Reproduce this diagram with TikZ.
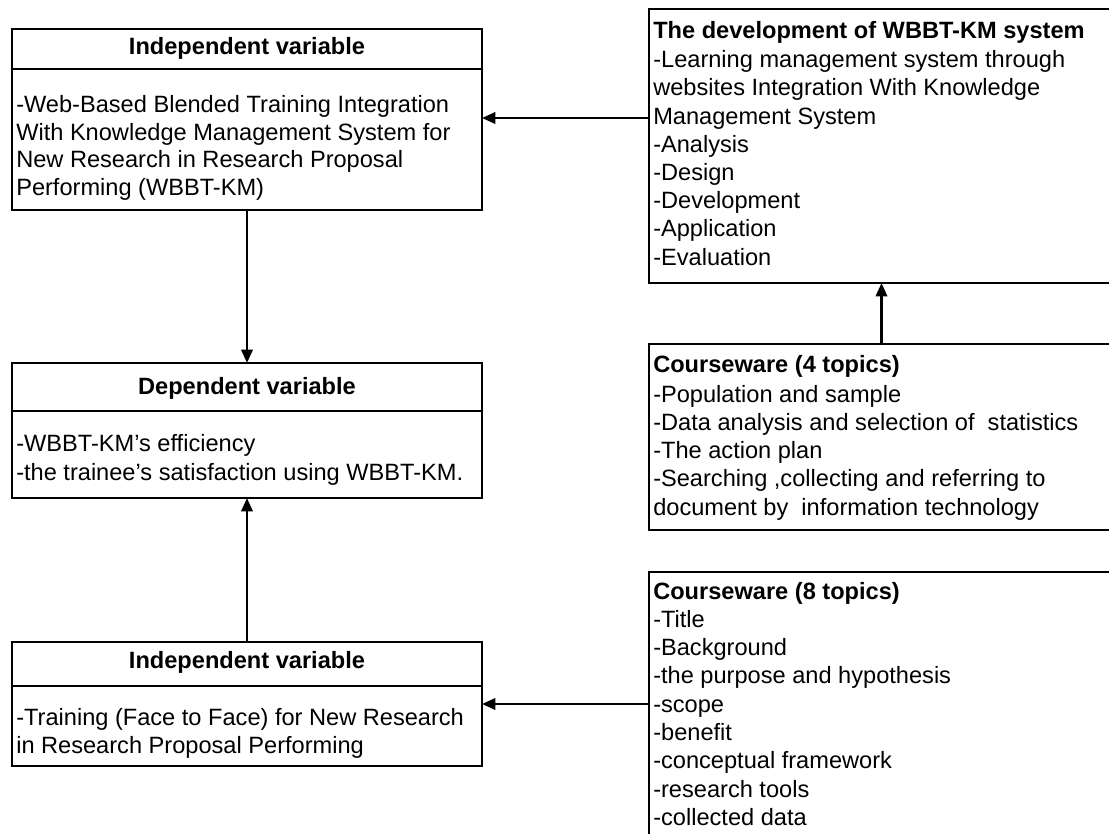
\documentclass[tikz,border=0pt]{standalone}
\usepackage{fontspec}
\setmainfont{Liberation Sans}
\usetikzlibrary{arrows.meta}
\begin{document}
\begin{tikzpicture}[x=0.75pt,y=-0.75pt,
  box/.style={draw, line width=2pt, anchor=north west, inner sep=0pt, outer sep=0pt},
  rule/.style={line width=2pt},
  txt/.style={anchor=base west, inner sep=0pt, font=\fontsize{17.7}{21}\selectfont},
  headtxt/.style={anchor=base, inner sep=0pt, font=\fontsize{17.7}{21}\selectfont\bfseries},
  titletxt/.style={anchor=base west, inner sep=0pt, font=\fontsize{17.7}{21}\selectfont\bfseries},
  link/.style={line width=1.8pt, -{Triangle[length=10pt,width=8.5pt]}}]
\useasboundingbox (0,0) rectangle (1109,834);
\clip (0,0) rectangle (1109,834);

% left column: variables
\node[box, minimum width=352.5pt, minimum height=135.75pt] (ivA) at (12,29) {};
\draw[rule] (12,69) -- (482,69);
\node[headtxt] (ivAh) at (247,55) {Independent variable};
\node[txt] (ivA1) at (16,113) {-Web-Based Blended Training Integration};
\node[txt] (ivA2) at (16,141) {With Knowledge Management System for};
\node[txt] (ivA3) at (16,168) {New Research in Research Proposal};
\node[txt] (ivA4) at (16,196) {Performing (WBBT-KM)};

\node[box, minimum width=352.5pt, minimum height=101.25pt] (dep) at (12,363) {};
\draw[rule] (12,411) -- (482,411);
\node[headtxt] (deph) at (247,394) {Dependent variable};
\node[txt] (dep1) at (16,451) {-WBBT-KM’s efficiency};
\node[txt] (dep2) at (16,480) {-the trainee’s satisfaction using WBBT-KM.};

\node[box, minimum width=352.5pt, minimum height=93pt] (ivE) at (12,642) {};
\draw[rule] (12,686) -- (482,686);
\node[headtxt] (ivEh) at (247,668) {Independent variable};
\node[txt] (ivE1) at (16,725) {-Training (Face to Face) for New Research};
\node[txt] (ivE2) at (16,753) {in Research Proposal Performing};

% right column: system and courseware
\node[box, minimum width=348.75pt, minimum height=205.5pt] (devB) at (649,9) {};
\node[titletxt] (devB0) at (653,39) {The development of WBBT-KM system};
\node[txt] (devB1) at (653,68) {-Learning management system through};
\node[txt] (devB2) at (653,96) {websites Integration With Knowledge};
\node[txt] (devB3) at (653,125) {Management System};
\node[txt] (devB4) at (653,153) {-Analysis};
\node[txt] (devB5) at (653,181) {-Design};
\node[txt] (devB6) at (653,209) {-Development};
\node[txt] (devB7) at (653,237) {-Application};
\node[txt] (devB8) at (653,266) {-Evaluation};

\node[box, minimum width=348.75pt, minimum height=139.5pt] (cw4) at (649,344) {};
\node[titletxt] (cw40) at (653,372) {Courseware (4 topics)};
\node[txt] (cw41) at (653,402) {-Population and sample};
\node[txt] (cw42) at (653,430) {-Data analysis and selection of\ \ statistics};
\node[txt] (cw43) at (653,458) {-The action plan};
\node[txt] (cw44) at (653,486) {-Searching ,collecting and referring to};
\node[txt] (cw45) at (653,515) {document by\ \ information technology};

\node[box, minimum width=348.75pt, minimum height=210pt] (cw8) at (649,572) {};
\node[titletxt] (cw80) at (653,599) {Courseware (8 topics)};
\node[txt] (cw81) at (653,627) {-Title};
\node[txt] (cw82) at (653,655) {-Background};
\node[txt] (cw83) at (653,683) {-the purpose and hypothesis};
\node[txt] (cw84) at (653,712) {-scope};
\node[txt] (cw85) at (653,740) {-benefit};
\node[txt] (cw86) at (653,768) {-conceptual framework};
\node[txt] (cw87) at (653,797) {-research tools};
\node[txt] (cw88) at (653,825) {-collected data};

% connectors
\coordinate (yBA) at (0,118);
\coordinate (yFE) at (0,704);
\draw[link] (devB.west |- yBA) -- (ivA.east |- yBA);
\draw[link] (ivA.south) -- (dep.north);
\draw[link] (ivE.north) -- (dep.south);
\draw[link] (cw4.north) -- (devB.south);
\draw[link] (cw8.west |- yFE) -- (ivE.east |- yFE);
\end{tikzpicture}
\end{document}
